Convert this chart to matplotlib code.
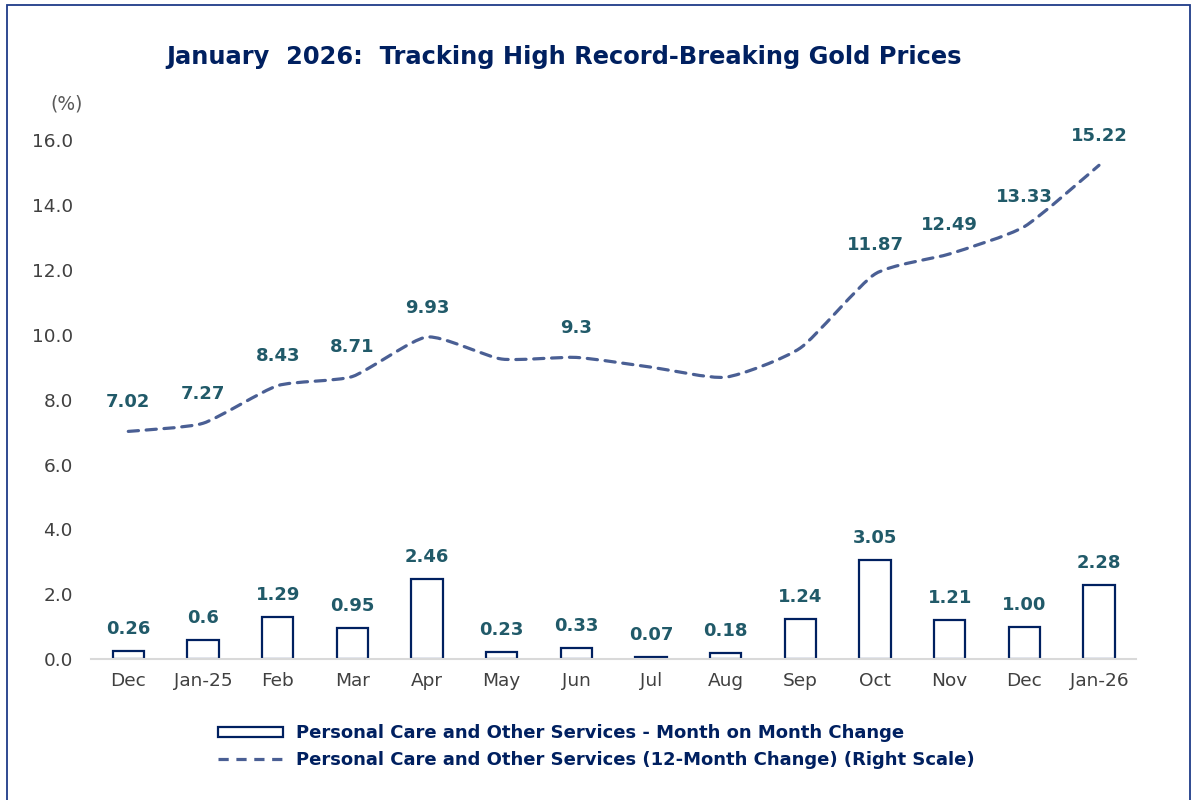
import matplotlib.pyplot as plt
from matplotlib.path import Path
from matplotlib.patches import PathPatch, Patch, Rectangle
from matplotlib.lines import Line2D

# data
months = ['Dec', 'Jan-25', 'Feb', 'Mar', 'Apr', 'May', 'Jun', 'Jul', 'Aug', 'Sep', 'Oct', 'Nov', 'Dec', 'Jan-26']
mom = [0.26, 0.6, 1.29, 0.95, 2.46, 0.23, 0.33, 0.07, 0.18, 1.24, 3.05, 1.21, 1.00, 2.28]
mom_labels = ['0.26', '0.6', '1.29', '0.95', '2.46', '0.23', '0.33', '0.07', '0.18', '1.24', '3.05', '1.21', '1.00', '2.28']
yoy = [7.02, 7.27, 8.43, 8.71, 9.93, 9.25, 9.30, 9.00, 8.69, 9.59, 11.87, 12.49, 13.33, 15.22]
yoy_labels = ['7.02', '7.27', '8.43', '8.71', '9.93', '', '9.3', '', '', '', '11.87', '12.49', '13.33', '15.22']
yticks = [0, 2, 4, 6, 8, 10, 12, 14, 16]

navy = '#002060'
teal = '#215A69'
line_col = '#4A5F94'

fig = plt.figure(figsize=(11.92, 8.0), dpi=100)
ax = fig.add_axes([0.0763, 0.176, 0.877, 0.649])

x = list(range(len(months)))

ax.bar(x, mom, width=0.42, facecolor='white', edgecolor=navy, linewidth=1.6, zorder=2)

# lightly smoothed line like excel (bezier through the points)
k = 10
verts = [(x[0], yoy[0])]
codes = [Path.MOVETO]
for i in range(len(x) - 1):
    p0 = (x[max(i - 1, 0)], yoy[max(i - 1, 0)])
    p1 = (x[i], yoy[i])
    p2 = (x[i + 1], yoy[i + 1])
    p3 = (x[min(i + 2, len(x) - 1)], yoy[min(i + 2, len(x) - 1)])
    c1 = (p1[0] + (p2[0] - p0[0]) / k, p1[1] + (p2[1] - p0[1]) / k)
    c2 = (p2[0] - (p3[0] - p1[0]) / k, p2[1] - (p3[1] - p1[1]) / k)
    verts += [c1, c2, p2]
    codes += [Path.CURVE4] * 3
ax.add_patch(PathPatch(Path(verts, codes), fill=False, edgecolor=line_col,
                       linewidth=2.3, linestyle=(0, (3.2, 2.4)), capstyle='round', zorder=3))

for xi, v, lab in zip(x, mom, mom_labels):
    ax.annotate(lab, (xi, v), xytext=(0, 16), textcoords='offset points', ha='center', va='center',
                fontsize=13, fontweight='bold', color=teal)
for xi, v, lab in zip(x, yoy, yoy_labels):
    if lab:
        ax.annotate(lab, (xi, v), xytext=(0, 21), textcoords='offset points', ha='center', va='center',
                    fontsize=13, fontweight='bold', color=teal)

ax.set_xlim(-0.5, len(x) - 0.5)
ax.set_ylim(0, 16)
ax.set_yticks(yticks)
ax.set_yticklabels([f'{t:.1f}' for t in yticks])
ax.set_xticks(x)
ax.set_xticklabels(months)
ax.tick_params(axis='both', length=0, labelsize=13.3, colors='#404040')
ax.tick_params(axis='y', pad=13)
ax.tick_params(axis='x', pad=9)
for s in ['top', 'right', 'left']:
    ax.spines[s].set_visible(False)
ax.spines['bottom'].set_color('#D9D9D9')
ax.spines['bottom'].set_linewidth(1.5)

fig.text(0.473, 0.929, 'January  2026:  Tracking High Record-Breaking Gold Prices', ha='center', va='center',
         fontsize=17.4, fontweight='bold', color=navy)
fig.text(0.056, 0.87, '(%)', ha='center', va='center', fontsize=13.5, color='#595959')

handles = [Patch(facecolor='white', edgecolor=navy, linewidth=1.6),
           Line2D([], [], color=line_col, linewidth=2.3, linestyle=(0, (3.2, 2.4)))]
labels = ['Personal Care and Other Services - Month on Month Change',
          'Personal Care and Other Services (12-Month Change) (Right Scale)']
leg = fig.legend(handles, labels, loc='upper left', bbox_to_anchor=(0.175, 0.106), frameon=False,
                 prop={'weight': 'bold', 'size': 13}, handlelength=3.6, handleheight=0.5,
                 handletextpad=0.75, labelspacing=0.5, borderpad=0)
for t in leg.get_texts():
    t.set_color(navy)

fig.patches.append(Rectangle((0.006, -0.05), 0.992, 1.044, transform=fig.transFigure,
                             fill=False, edgecolor='#1F3C88', linewidth=1.3))

fig.savefig('out.png', dpi=100, facecolor='white')
